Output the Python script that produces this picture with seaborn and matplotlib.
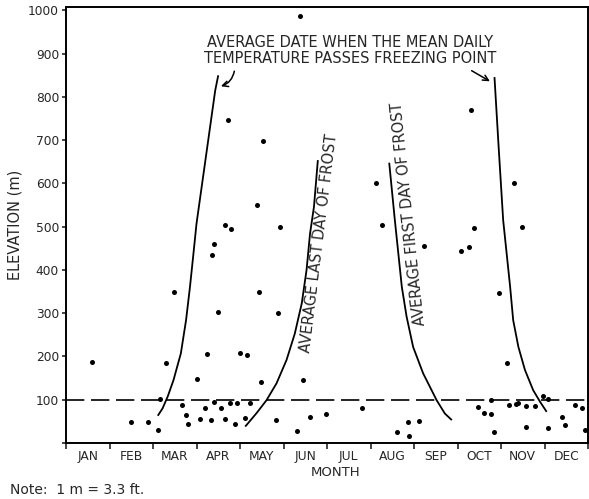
import matplotlib
matplotlib.use("Agg")
import matplotlib.pyplot as plt
import seaborn as sns

# ---------------- data ----------------
months = ['JAN', 'FEB', 'MAR', 'APR', 'MAY', 'JUN',
          'JUL', 'AUG', 'SEP', 'OCT', 'NOV', 'DEC']

# station points: position in months (0 = start of Jan) and elevation (m)
dot_month = [0.60, 1.49, 1.88, 2.11, 2.15, 2.30, 2.49, 2.67, 2.77, 2.80,
             3.00, 3.09, 3.20, 3.23, 3.34, 3.36, 3.40, 3.41, 3.50, 3.56,
             3.65, 3.66, 3.72, 3.76, 3.80, 3.88, 3.94, 4.00, 4.12, 4.17,
             4.24, 4.40, 4.44, 4.48, 4.54, 4.83, 4.87, 4.92,
             5.32, 5.37, 5.44, 5.62,
             5.98, 6.80, 7.12, 7.26, 7.62, 7.87, 7.89, 8.11, 8.24,
             9.07, 9.26, 9.30, 9.39, 9.46, 9.60, 9.78, 9.78, 9.85, 9.96,
             10.14, 10.19, 10.30, 10.34, 10.40, 10.48, 10.57, 10.57, 10.79, 10.96,
             11.07, 11.07, 11.41, 11.46, 11.70, 11.86, 11.93]
dot_elev = [188, 49, 48, 30, 102, 184, 348, 87, 64, 43,
            149, 55, 82, 205, 53, 434, 460, 95, 302, 82,
            503, 55, 746, 92, 494, 45, 92, 209, 58, 204,
            93, 550, 349, 142, 698, 53, 300, 500,
            28, 988, 145, 59,
            67, 82, 601, 503, 25, 48, 17, 52, 455,
            445, 453, 769, 498, 83, 69, 68, 99, 25, 346,
            185, 88, 602, 91, 92, 500, 86, 37, 86, 108,
            101, 35, 61, 42, 88, 82, 30]

# spring: mean daily temperature passes freezing
spring_thaw_m = [2.11, 2.22, 2.34, 2.47, 2.64, 2.76, 2.85, 2.93, 3.00, 3.43, 3.50]
spring_thaw_e = [63, 80, 108, 145, 207, 284, 361, 438, 507, 815, 850]
# average last day of frost
last_frost_m = [4.12, 4.38, 4.61, 4.84, 5.07, 5.26, 5.42, 5.53, 5.61, 5.70, 5.79]
last_frost_e = [38, 69, 99, 138, 192, 253, 323, 400, 484, 546, 654]
# average first day of frost
first_frost_m = [7.43, 7.56, 7.64, 7.72, 7.83, 7.98, 8.21, 8.52, 8.71, 8.87]
first_frost_e = [648, 515, 438, 361, 292, 222, 161, 99, 68, 53]
# autumn: mean daily temperature passes freezing
fall_freeze_m = [9.85, 9.95, 10.05, 10.13, 10.21, 10.28, 10.40, 10.55, 10.74, 10.90, 11.05]
fall_freeze_e = [846, 677, 515, 438, 361, 284, 222, 169, 122, 95, 72]

ref_elev = 100
y_ticks = list(range(0, 1001, 100))
y_labels = [''] + [str(v) for v in y_ticks[1:]]

# ---------------- plot ----------------
sns.set_style('ticks')
plt.rcParams['font.family'] = ['DejaVu Sans']

fig = plt.figure(figsize=(5.89, 4.99), dpi=100)
ax = fig.add_axes([66 / 589, 1 - 443 / 499, 522 / 589, 436 / 499])

sns.scatterplot(x=dot_month, y=dot_elev, color='black', s=13,
                linewidth=0, ax=ax, zorder=3)

for xm, ye in [(spring_thaw_m, spring_thaw_e), (last_frost_m, last_frost_e),
               (first_frost_m, first_frost_e), (fall_freeze_m, fall_freeze_e)]:
    ax.plot(xm, ye, color='black', lw=1.3, solid_capstyle='butt',
            solid_joinstyle='round')

ax.axhline(ref_elev, color='black', lw=1.2, dashes=(11, 4))

fs = 10.5
ax.text(6.53, 908, 'AVERAGE DATE WHEN THE MEAN DAILY\nTEMPERATURE PASSES FREEZING POINT',
        ha='center', va='center', fontsize=fs, linespacing=1.1)
ax.annotate('', xy=(3.50, 823), xytext=(3.88, 866),
            arrowprops=dict(arrowstyle='->', color='black', lw=1.1,
                            connectionstyle='arc3,rad=-0.35'))
ax.annotate('', xy=(9.80, 833), xytext=(9.27, 864),
            arrowprops=dict(arrowstyle='->', color='black', lw=1.1))

ax.text(5.82, 463, 'AVERAGE LAST DAY OF FROST', rotation=83,
        ha='center', va='center', fontsize=fs, rotation_mode='anchor')
ax.text(7.89, 529, 'AVERAGE FIRST DAY OF FROST', rotation=96,
        ha='center', va='center', fontsize=fs, rotation_mode='anchor')

ax.set_xlim(0, 12)
ax.set_ylim(0, 1008)
ax.set_xticks(range(13))
ax.set_xticklabels([])
ax.set_xticks([i + 0.5 for i in range(12)], minor=True)
ax.set_xticklabels(months, minor=True, fontsize=8.8)
ax.tick_params(axis='x', which='minor', length=0, pad=5)
ax.tick_params(axis='x', which='major', length=4, width=1.2, direction='out')
ax.set_yticks(y_ticks)
ax.set_yticklabels(y_labels, fontsize=8.8)
ax.tick_params(axis='y', length=3, width=1.2, direction='out', pad=2)

for sp in ax.spines.values():
    sp.set_visible(True)
    sp.set_linewidth(1.4)
    sp.set_color('black')

ax.set_xlabel('MONTH', fontsize=9.5, x=(336 - 66) / 522, labelpad=2)
ax.set_ylabel('ELEVATION (m)', fontsize=10.5, labelpad=4)

fig.text(10 / 589, 1 - 490 / 499, 'Note:  1 m = 3.3 ft.', fontsize=10,
         ha='left', va='center')

fig.savefig('out.png', dpi=100, facecolor='white')
